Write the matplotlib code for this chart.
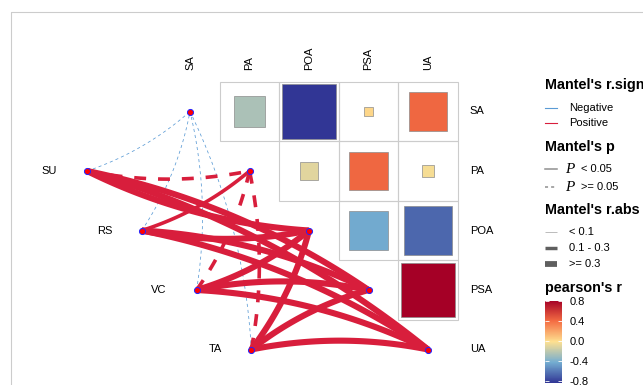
import numpy as np
import matplotlib
matplotlib.use("Agg")
import matplotlib.pyplot as plt
from matplotlib.colors import LinearSegmentedColormap, Normalize
from matplotlib.patches import Rectangle
from matplotlib.cm import ScalarMappable

plt.rcParams['font.family'] = ['Liberation Sans', 'DejaVu Sans']

# ---- data -------------------------------------------------------------
env_vars = ["SA", "PA", "POA", "PSA", "UA"]

# Pearson's r, upper triangle (row variable vs. the variables after it)
corr_SA = [-0.26, -0.84, 0.02, 0.42]    # vs PA, POA, PSA, UA
corr_PA = [-0.10, 0.42, -0.04]          # vs POA, PSA, UA
corr_POA = [-0.44, -0.67]               # vs PSA, UA
corr_PSA = [0.81]                       # vs UA

spec_groups = ["SU", "RS", "VC", "TA"]

# Mantel test classes for each group against SA, PA, POA, PSA, UA
mantel_sign = {
    "SU": ["Negative", "Positive", "Positive", "Positive", "Positive"],
    "RS": ["Negative", "Positive", "Positive", "Positive", "Positive"],
    "VC": ["Negative", "Positive", "Positive", "Positive", "Positive"],
    "TA": ["Negative", "Positive", "Positive", "Positive", "Positive"],
}
mantel_p = {
    "SU": [">= 0.05", ">= 0.05", "< 0.05", "< 0.05", "< 0.05"],
    "RS": [">= 0.05", "< 0.05", "< 0.05", "< 0.05", "< 0.05"],
    "VC": [">= 0.05", ">= 0.05", "< 0.05", "< 0.05", "< 0.05"],
    "TA": [">= 0.05", ">= 0.05", "< 0.05", "< 0.05", "< 0.05"],
}
mantel_rabs = {
    "SU": ["< 0.1", "0.1 - 0.3", ">= 0.3", ">= 0.3", ">= 0.3"],
    "RS": ["< 0.1", "0.1 - 0.3", ">= 0.3", ">= 0.3", ">= 0.3"],
    "VC": ["< 0.1", "0.1 - 0.3", ">= 0.3", ">= 0.3", ">= 0.3"],
    "TA": ["< 0.1", "0.1 - 0.3", ">= 0.3", ">= 0.3", ">= 0.3"],
}

cbar_ticks = [-0.8, -0.4, 0.0, 0.4, 0.8]

# ---- styles -----------------------------------------------------------
sign_colors = {"Negative": "#5B9BD5", "Positive": "#D81E3C"}
rabs_widths = {"< 0.1": 0.55, "0.1 - 0.3": 2.6, ">= 0.3": 4.4}
palette = ["#313695", "#74ADD1", "#FEE090", "#F46D43", "#A50026"]
grid_col = "#CCCCCC"

corr_rows = [corr_SA, corr_PA, corr_POA, corr_PSA]
all_r = [v for row in corr_rows for v in row]
norm = Normalize(vmin=min(all_r), vmax=max(all_r))
cmap = LinearSegmentedColormap.from_list("rdylbu5", palette)

W, H = 643, 385
fig = plt.figure(figsize=(W / 100, H / 100), dpi=100)

# main axes: one unit = one heatmap cell (59.5 px)
cell = 59.5
x0px, y0px = 190.0, 111.5
ax = fig.add_axes([0, 0, 1, 1])
ax.set_xlim(-x0px / cell, (W - x0px) / cell)
ax.set_ylim((H - y0px) / cell, -y0px / cell)
ax.axis("off")

n = len(env_vars)

# heatmap cells and squares (upper triangle, no diagonal)
for i, row in enumerate(corr_rows):
    for k, r in enumerate(row):
        j = i + 1 + k
        ax.add_patch(Rectangle((j - 0.5, i - 0.5), 1, 1, fill=False,
                               edgecolor=grid_col, linewidth=0.8, zorder=1))
        side = np.sqrt(abs(r))
        ax.add_patch(Rectangle((j - side / 2, i - side / 2), side, side,
                               facecolor=cmap(norm(r)), edgecolor="#8C8C8C",
                               linewidth=0.5, zorder=2))

# variable labels
for j, name in enumerate(env_vars):
    ax.text(j, -0.70, name, rotation=90, ha="center", va="bottom", fontsize=8)
    ax.text(4.5 + 0.2, j, name, ha="left", va="center", fontsize=8)

# group node positions, stepping down parallel to the diagonal
spec_x = [-1.73 + 0.92 * k for k in range(len(spec_groups))]
spec_y = [1 + k for k in range(len(spec_groups))]


def curve(p0, p2, bend, amount=0.1, npts=80):
    p0 = np.asarray(p0, float)
    p2 = np.asarray(p2, float)
    d = p2 - p0
    L = np.hypot(*d)
    nrm = np.array([d[1], -d[0]]) / L
    c = (p0 + p2) / 2 + bend * amount * L * nrm
    t = np.linspace(0, 1, npts)[:, None]
    return (1 - t) ** 2 * p0 + 2 * (1 - t) * t * c + t ** 2 * p2


links = []
for k, g in enumerate(spec_groups):
    for j in range(n):
        links.append((rabs_widths[mantel_rabs[g][j]], k, j, g))
links.sort(key=lambda z: z[0])

for lw, k, j, g in links:
    # links to the upper half of the diagonal bend one way, lower half the other
    bend = -1 if j <= (n - 1) / 2 else 1
    pts = curve((spec_x[k], spec_y[k]), (j, j), bend)
    dashed = mantel_p[g][j] == ">= 0.05"
    if dashed:
        ls = (0, (4, 4)) if lw < 1 else (0, (3.3, 3.3))
    else:
        ls = "-"
    ax.plot(pts[:, 0], pts[:, 1], color=sign_colors[mantel_sign[g][j]],
            linewidth=lw, linestyle=ls, solid_capstyle="butt",
            dash_capstyle="butt", zorder=3)

# nodes
ax.plot(spec_x, spec_y, "o", ms=4.4, mfc="#FF0000", mec="#2222FF", mew=0.7, zorder=5)
ax.plot(range(n), range(n), "o", ms=4.4, mfc="#FF0000", mec="#2222FF", mew=0.7, zorder=5)
for k, g in enumerate(spec_groups):
    ax.text(spec_x[k] - 0.5, spec_y[k], g, ha="right", va="center", fontsize=8)

# ---- legends (pixel coordinates) --------------------------------------
lg = fig.add_axes([0, 0, 1, 1], facecolor="none")
lg.set_xlim(0, W)
lg.set_ylim(H, 0)
lg.axis("off")

# outer frame
lg.plot([11, 11, W], [H, 12, 12], color="#CCCCCC", linewidth=0.8)

lx0, lx1, tx = 545, 557, 569
title_kw = dict(fontsize=10.4, fontweight="bold", ha="left", va="baseline")
lab_kw = dict(fontsize=8, ha="left", va="center")

lg.text(lx0, 89.3, "Mantel's r.sign", **title_kw)
for yk, lab in zip([107.7, 123.3], ["Negative", "Positive"]):
    lg.plot([lx0, lx1], [yk, yk], color=sign_colors[lab], linewidth=0.8)
    lg.text(tx, yk, lab, **lab_kw)

lg.text(lx0, 151.5, "Mantel's p", **title_kw)
for yk, lab, ls in zip([169.0, 186.7], ["< 0.05", ">= 0.05"], ["-", (0, (2, 2))]):
    lg.plot([lx0, lx1], [yk, yk], color="#8F8F8F", linewidth=1.1, linestyle=ls,
            dash_capstyle="butt")
    lg.text(565, yk + 4, "P", fontsize=11, family="Liberation Serif",
            style="italic", ha="left", va="baseline")
    lg.text(581, yk, lab, **lab_kw)

lg.text(lx0, 214.3, "Mantel's r.abs", **title_kw)
for yk, lab, col in zip([232.3, 248.3, 264.0], ["< 0.1", "0.1 - 0.3", ">= 0.3"],
                        ["#BBBBBB", "#5F5F5F", "#5F5F5F"]):
    lg.plot([lx0, lx1], [yk, yk], color=col,
            linewidth=max(rabs_widths[lab] * 0.95, 0.7), solid_capstyle="butt")
    lg.text(tx, yk, lab, **lab_kw)

lg.text(lx0, 291.7, "pearson's r", **title_kw)

# colour bar: 50 px per unit of r, 0 at y = 341
ppu = 50.0
top = 341 - norm.vmax * ppu
bot = 341 - norm.vmin * ppu
cax = fig.add_axes([545 / W, 1 - bot / H, 17 / W, (bot - top) / H])
cb = fig.colorbar(ScalarMappable(norm=norm, cmap=cmap), cax=cax, ticks=cbar_ticks)
cb.outline.set_visible(False)
cb.ax.set_yticklabels([f"{t:.1f}" for t in cbar_ticks])
cax.tick_params(axis="y", direction="in", length=3.2, width=0.6, color="white",
                left=True, right=True, labelleft=False, labelright=True,
                labelsize=8, pad=5.5)

fig.savefig("out.png", dpi=100)
